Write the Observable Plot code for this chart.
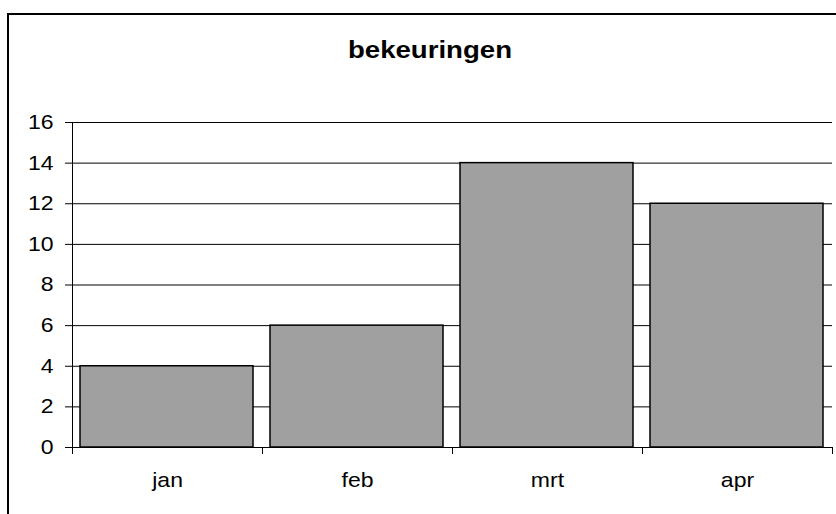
<!DOCTYPE html>
<html>
<head>
<meta charset="utf-8">
<script src="https://cdn.jsdelivr.net/npm/d3@7"></script>
<script src="https://cdn.jsdelivr.net/npm/@observablehq/plot@0.6"></script>
<style>
  html, body { margin: 0; padding: 0; width: 836px; height: 514px; overflow: hidden; background: #fff; }
  #frame { position: absolute; left: 7px; top: 13px; width: 845px; height: 560px; border: 2px solid #000; box-sizing: border-box; }
  #title { position: absolute; left: 0; width: 860px; top: 36px; text-align: center; font: bold 24px "Liberation Sans", Arial, sans-serif; color: #000; transform: scaleX(1.15); transform-origin: center; }
  #chart { position: absolute; left: 0; top: 0; }
</style>
</head>
<body>
<div id="frame"></div>
<div id="title">bekeuringen</div>
<div id="chart"></div>
<script>
const months = ["jan", "feb", "mrt", "apr"];
const counts = [4, 6, 14, 12];
const yTicks = [0, 2, 4, 6, 8, 10, 12, 14, 16];

const data = months.map((m, i) => ({month: m, count: counts[i]}));

const W = 836, H = 514;
const ml = 72, mr = 4, mt = 122, mb = 67;
const step = (W - ml - mr) / months.length;

const chart = Plot.plot({
  width: W,
  height: H,
  marginLeft: ml,
  marginRight: mr,
  marginTop: mt,
  marginBottom: mb,
  style: {fontFamily: "'Liberation Sans', Arial, sans-serif", fontSize: "20px", color: "#000", background: "transparent", overflow: "visible"},
  x: {domain: months, padding: 0, label: null, tickSize: 0, tickPadding: 25},
  y: {domain: [0, 16], ticks: yTicks, tickSize: 7, tickPadding: 12, label: null, tickFormat: d => String(d)},
  marks: [
    Plot.ruleY(yTicks, {stroke: "#000", strokeWidth: 1}),
    Plot.barY(data, {x: "month", y: "count", fill: "#a0a0a0", stroke: "#000", strokeWidth: 1.5, insetLeft: 8, insetRight: 9}),
    // category boundary ticks (left edge of each band); the first also forms the y axis line
    Plot.ruleX(months, {x: d => d, dx: -step / 2, y1: 0, y2: 0, insetBottom: -7, stroke: "#000"}),
    Plot.ruleX(months.slice(0, 1), {x: d => d, dx: -step / 2, y1: 0, y2: 16, stroke: "#000"}),
    Plot.ruleX(months.slice(-1), {x: d => d, dx: step / 2, y1: 0, y2: 0, insetBottom: -7, stroke: "#000"})
  ]
});
document.getElementById("chart").appendChild(chart);

// the reference's lettering is slightly wide: stretch tick labels horizontally around their anchor
chart.querySelectorAll("text").forEach(t => {
  const b = t.getBBox();
  const anchor = getComputedStyle(t).textAnchor;
  const ax = anchor === "end" ? b.x + b.width : anchor === "middle" ? b.x + b.width / 2 : b.x;
  const prev = t.getAttribute("transform") || "";
  t.setAttribute("transform", `${prev} translate(${ax},0) scale(1.15,1) translate(${-ax},0)`.trim());
});
</script>
</body>
</html>
